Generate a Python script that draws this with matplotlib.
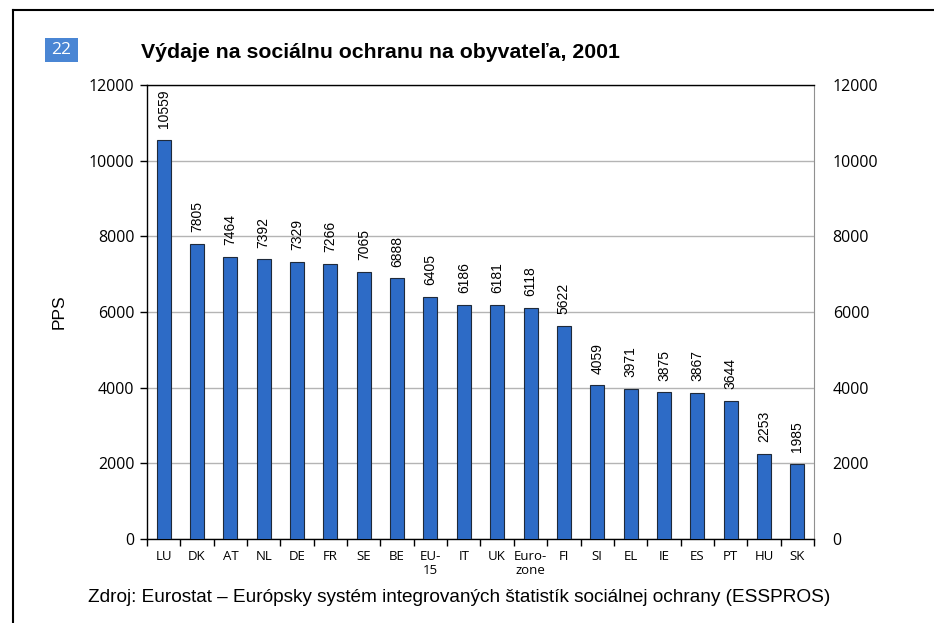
import numpy as np
import matplotlib.pyplot as plt
from matplotlib.lines import Line2D
from matplotlib.patches import Rectangle

# Výdaje na sociálnu ochranu na obyvateľa (PPS), 2001
krajiny = ['LU', 'DK', 'AT', 'NL', 'DE', 'FR', 'SE', 'BE', 'EU-\n15', 'IT',
           'UK', 'Euro-\nzone', 'FI', 'SI', 'EL', 'IE', 'ES', 'PT', 'HU', 'SK']
hodnoty = [10559, 7805, 7464, 7392, 7329, 7266, 7065, 6888, 6405, 6186,
           6181, 6118, 5622, 4059, 3971, 3875, 3867, 3644, 2253, 1985]
y_ticky = [0, 2000, 4000, 6000, 8000, 10000, 12000]

fig = plt.figure(figsize=(9.34, 6.23), dpi=100)
ax = fig.add_axes([0.1574, 0.1348, 0.7141, 0.7288])

x = np.arange(len(krajiny))
ax.bar(x, hodnoty, width=0.42, color='#2d6bc6', edgecolor='#1f2a3a',
       linewidth=0.8, zorder=3)

for xi, v in zip(x, hodnoty):
    ax.annotate(str(v), (xi, v), xytext=(0, 8.5), textcoords='offset points',
                rotation=90, ha='center', va='bottom',
                fontsize=10, family='Liberation Sans')

ax.set_xlim(-0.5, len(krajiny) - 0.5)
ax.set_ylim(0, 12000)
ax.set_yticks(y_ticky)
ax.set_yticklabels([str(t) for t in y_ticky], family='Open Sans', fontsize=11.5)
ax.tick_params(axis='y', length=5, width=1, pad=4)
ax.yaxis.grid(True, color='#b4b4b4', linewidth=1, zorder=0)
ax.set_axisbelow(True)

ax.set_xticks(x)
ax.set_xticklabels(krajiny, family='Open Sans', fontsize=9.5, linespacing=1.1)
ax.set_xticks(np.arange(len(krajiny) + 1) - 0.5, minor=True)
ax.tick_params(axis='x', which='major', length=0, pad=8)
ax.tick_params(axis='x', which='minor', length=5, width=1)

for s in ['left', 'bottom', 'top']:
    ax.spines[s].set_color('black')
    ax.spines[s].set_linewidth(1)
ax.spines['right'].set_color('#909090')

ax.set_ylabel('PPS', family='Liberation Sans', fontsize=12.5, labelpad=16)

# pravá os
ax2 = ax.twinx()
ax2.set_ylim(0, 12000)
ax2.set_yticks(y_ticky)
ax2.set_yticklabels([str(t) for t in y_ticky], family='Open Sans', fontsize=11.5)
ax2.tick_params(axis='y', length=0, pad=13.5)
for s in ax2.spines.values():
    s.set_visible(False)

# rámik a nadpis
fig.add_artist(Line2D([13 / 934, 13 / 934], [0, 1 - 10 / 623],
                      color='black', linewidth=1.5, transform=fig.transFigure))
fig.add_artist(Line2D([13 / 934, 1], [1 - 10 / 623, 1 - 10 / 623],
                      color='black', linewidth=1.5, transform=fig.transFigure))
fig.add_artist(Rectangle((45 / 934, 1 - 62 / 623), 33 / 934, 24 / 623,
                         facecolor='#4a86d4', edgecolor='none',
                         transform=fig.transFigure))
fig.text(61.5 / 934, 1 - 50 / 623, '22', color='white', family='Open Sans',
         fontsize=12.5, ha='center', va='center')
fig.text(141 / 934, 1 - 52 / 623,
         'Výdaje na sociálnu ochranu na obyvateľa, 2001',
         family='Liberation Sans', fontweight='bold', fontsize=15.3,
         ha='left', va='center')

fig.text(88 / 934, 1 - 597 / 623,
         'Zdroj: Eurostat – Európsky systém integrovaných štatistík '
         'sociálnej ochrany (ESSPROS)',
         family='Liberation Sans', fontsize=13.7, ha='left', va='center')

fig.savefig('out.png', dpi=100)
